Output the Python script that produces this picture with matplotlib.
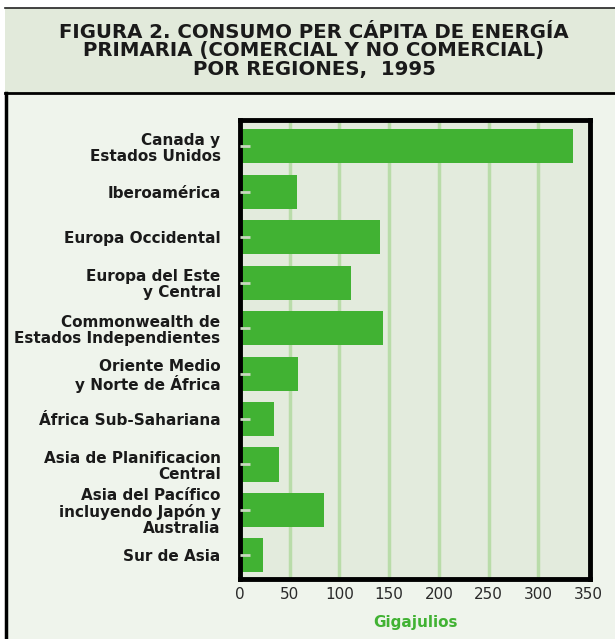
import numpy as np
import matplotlib.pyplot as plt
from matplotlib.patches import Rectangle

# Datos
regiones = ['Canada y\nEstados Unidos', 'Iberoamérica', 'Europa Occidental',
            'Europa del Este\ny Central', 'Commonwealth de\nEstados Independientes',
            'Oriente Medio\ny Norte de África', 'África Sub-Sahariana',
            'Asia de Planificacion\nCentral', 'Asia del Pacífico\nincluyendo Japón y\nAustralia',
            'Sur de Asia']
consumo = [335, 57, 141, 112, 144, 58, 34, 39, 84, 23]
ticks_x = [0, 50, 100, 150, 200, 250, 300, 350]

verde = '#41b233'
W, H = 615, 639
fig = plt.figure(figsize=(W / 100, H / 100), dpi=100)
fig.patch.set_facecolor('white')

# cabecera y recuadro de fondo
fig.patches.append(Rectangle((5 / W, 1 - 93 / H), 1, 85 / H, transform=fig.transFigure,
                             facecolor='#e2eadb', edgecolor='none', zorder=-5))
fig.patches.append(Rectangle((5 / W, 0), 1, 1 - 93 / H, transform=fig.transFigure,
                             facecolor='#eff4ec', edgecolor='none', zorder=-5))
fig.add_artist(plt.Line2D([5 / W, 1], [1 - 8 / H] * 2, color='#222222', lw=1.2, zorder=-4))
fig.add_artist(plt.Line2D([5 / W, 1], [1 - 93 / H] * 2, color='black', lw=2, zorder=-4))
fig.add_artist(plt.Line2D([6 / W, 6 / W], [0, 1 - 93 / H], color='black', lw=2.5, zorder=-4))

titulo = ['FIGURA 2. CONSUMO PER CÁPITA DE ENERGÍA',
          'PRIMARIA (COMERCIAL Y NO COMERCIAL)',
          'POR REGIONES,  1995']
for i, linea in enumerate(titulo):
    fig.text(314 / W, 1 - (32 + i * 18.5) / H, linea, ha='center', va='center',
             fontsize=14.2, fontweight='bold', color='#1a1a1a', family='DejaVu Sans')

ax = fig.add_axes([240 / W, 1 - 579 / H, 350 / W, 459 / H])
ax.set_zorder(2)
ax.set_facecolor('#e3ebdd')
ax.set_axisbelow(False)
y = np.arange(len(regiones))
ax.barh(y, consumo, height=0.75, color=verde, zorder=2)
ax.set_ylim(len(regiones) - 0.5 + 0.02, -0.5 - 0.08)
ax.set_xlim(0, 352)
ax.set_xticks(ticks_x)
ax.set_xticklabels([str(t) for t in ticks_x], fontsize=11, color='#2a2a2a')
ax.set_yticks(y)
ax.set_yticklabels(regiones, fontsize=11, fontweight='bold', color='#1a1a1a',
                   linespacing=1.08, family='DejaVu Sans')
ax.tick_params(axis='y', direction='in', length=7, width=2, color='#c9d9c0', pad=14)
ax.tick_params(axis='x', length=0, pad=6)
for v in ticks_x[1:-1]:
    ax.axvline(v, color='#b9dca9', lw=2.5, zorder=1)
for s in ax.spines.values():
    s.set_linewidth(3.5)
    s.set_color('black')
ax.set_xlabel('Gigajulios', color=verde, fontsize=11, fontweight='bold', labelpad=9)

fig.savefig('out.png', dpi=100)
